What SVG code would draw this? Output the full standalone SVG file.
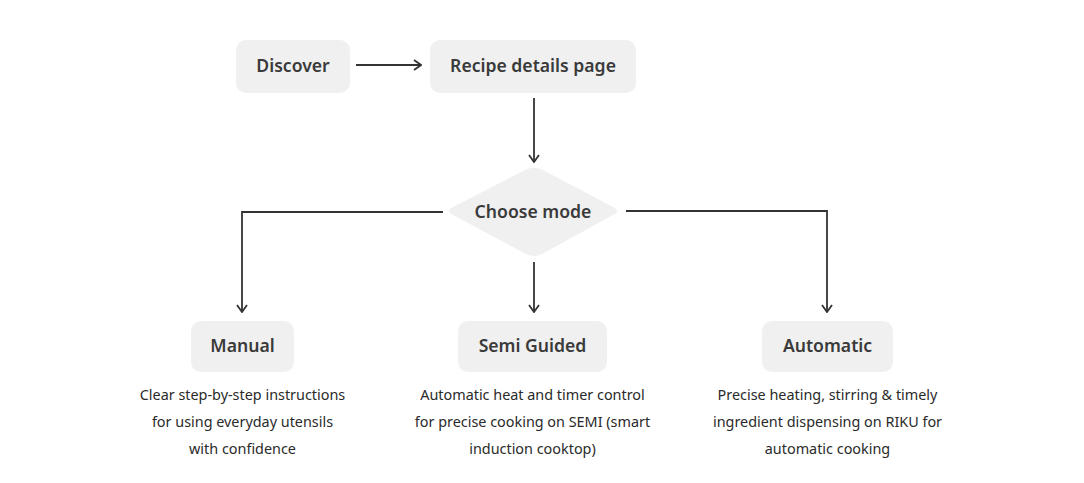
<svg xmlns="http://www.w3.org/2000/svg" width="1084" height="483" viewBox="0 0 1084 483">
<defs>
<style>
.box{fill:#f0f0f0;}
.t{font-family:"Noto Sans","Open Sans",sans-serif;font-weight:600;font-size:17.6px;fill:#3a3a3a;text-anchor:middle;}
.d{font-family:"Noto Sans","Open Sans",sans-serif;font-size:14.4px;fill:#2a2a2a;text-anchor:middle;}
.c{fill:none;stroke:#333;stroke-width:1.8;}
</style>
<marker id="ah" viewBox="0 0 12 12" refX="11" refY="6" markerWidth="12" markerHeight="12" markerUnits="userSpaceOnUse" orient="auto">
<path d="M4,1 L11,6 L4,11" fill="none" stroke="#333" stroke-width="1.8"/>
</marker>
</defs>
<rect width="1084" height="483" fill="#ffffff"/>
<g id="connectors">
<path class="c" d="M356,65 H421" marker-end="url(#ah)"/>
<path class="c" d="M534,98 V162" marker-end="url(#ah)"/>
<path class="c" d="M443,212 H242 V312" marker-end="url(#ah)"/>
<path class="c" d="M626,211 H827 V312" marker-end="url(#ah)"/>
<path class="c" d="M534,262 V312" marker-end="url(#ah)"/>
</g>
<g id="discover">
<rect class="box" x="236" y="40" width="114" height="53" rx="10"/>
<text class="t" x="293" y="72">Discover</text>
</g>
<g id="recipe">
<rect class="box" x="430" y="40" width="206" height="53" rx="10"/>
<text class="t" x="533" y="72">Recipe details page</text>
</g>
<g id="choose">
<path class="box" d="M526,169.5 Q534,166 542,169.5 L613,207 Q621,211 613,215 L542,254 Q534,258 526,254 L453,215 Q445,211 453,207 Z"/>
<text class="t" x="533" y="218">Choose mode</text>
</g>
<g id="manual">
<rect class="box" x="191" y="321" width="103" height="51" rx="10"/>
<text class="t" x="242.5" y="352">Manual</text>
<text class="d" x="242.5" y="400">Clear step-by-step instructions</text>
<text class="d" x="242.5" y="427">for using everyday utensils</text>
<text class="d" x="242.5" y="454">with confidence</text>
</g>
<g id="semi">
<rect class="box" x="458" y="321" width="149" height="51" rx="10"/>
<text class="t" x="532.5" y="352">Semi Guided</text>
<text class="d" x="532.5" y="400">Automatic heat and timer control</text>
<text class="d" x="532.5" y="427">for precise cooking on SEMI (smart</text>
<text class="d" x="532.5" y="454">induction cooktop)</text>
</g>
<g id="automatic">
<rect class="box" x="762" y="321" width="131" height="51" rx="10"/>
<text class="t" x="827.5" y="352">Automatic</text>
<text class="d" x="827.5" y="400">Precise heating, stirring &amp; timely</text>
<text class="d" x="827.5" y="427">ingredient dispensing on RIKU for</text>
<text class="d" x="827.5" y="454">automatic cooking</text>
</g>
</svg>
